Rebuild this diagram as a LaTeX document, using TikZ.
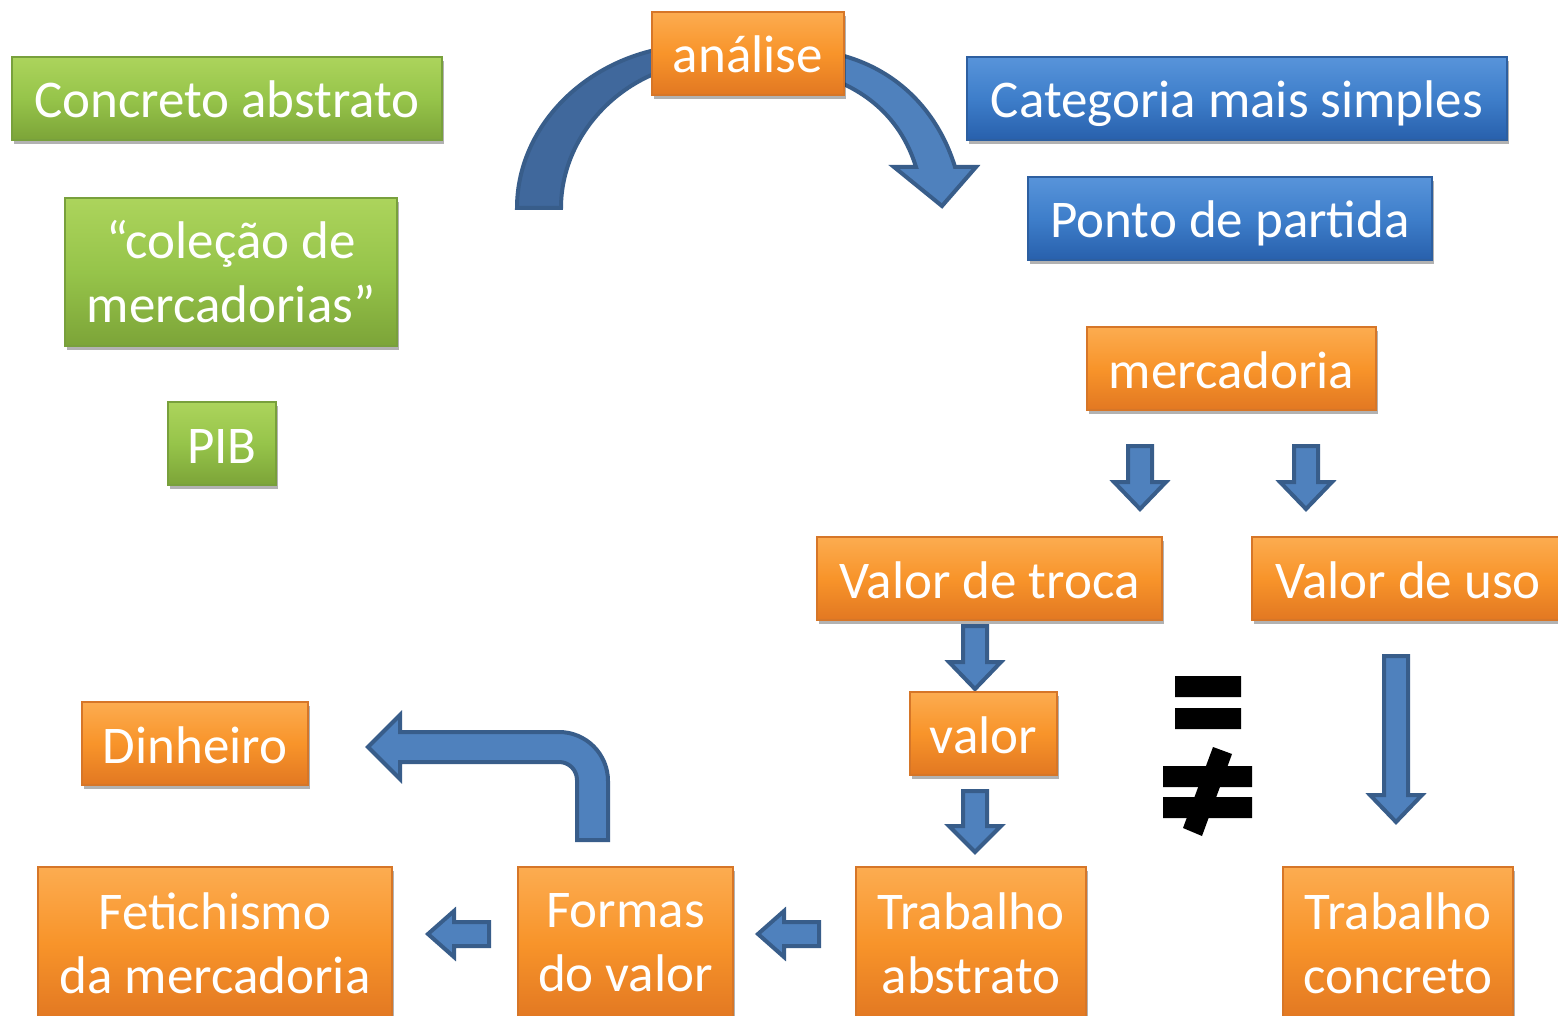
\documentclass[tikz,border=0pt]{standalone}
\usepackage{fontspec}
\setmainfont{Carlito}
\usetikzlibrary{shadows}
\definecolor{ortop}{RGB}{252,172,80}
\definecolor{ormid}{RGB}{248,148,42}
\definecolor{orbot}{RGB}{226,120,34}
\definecolor{orbd}{RGB}{214,118,40}
\definecolor{grtop}{RGB}{172,212,92}
\definecolor{grmid}{RGB}{150,196,74}
\definecolor{grbot}{RGB}{124,164,56}
\definecolor{grbd}{RGB}{120,160,60}
\definecolor{bltop}{RGB}{88,148,218}
\definecolor{blmid}{RGB}{62,126,202}
\definecolor{blbot}{RGB}{40,96,172}
\definecolor{blbd}{RGB}{45,95,160}
\definecolor{arrfill}{RGB}{79,129,189}
\definecolor{arrdark}{RGB}{64,104,156}
\definecolor{arrline}{RGB}{56,93,138}
\tikzset{
  box/.style={rectangle, inner sep=0pt, text=white, align=center,
    font=\fontsize{26.5}{32}\selectfont, draw=#1bd, line width=0.6pt,
    top color=#1top, bottom color=#1bot, middle color=#1mid,
    drop shadow={shadow xshift=1.2pt, shadow yshift=-1.8pt, opacity=0.3, fill=black}},
  oneline/.style={minimum height=41.5pt, text height=20pt, text depth=0.5pt},
  blk/.style={fill=arrfill, draw=arrline, line width=2pt, line join=miter},
  neq/.style={fill=black}
}
\newcommand{\downblk}[4]{\draw[blk] ({#1-12},#2) -- ({#1+12},#2) -- ({#1+12},#3) -- ({#1+26},#3) -- (#1,#4) -- ({#1-26},#3) -- ({#1-12},#3) -- cycle;}
\newcommand{\leftblk}[4]{\draw[blk] (#2,{#1-12}) -- (#2,{#1+12}) -- (#3,{#1+12}) -- (#3,{#1+23}) -- (#4,#1) -- (#3,{#1-23}) -- (#3,{#1-12}) -- cycle;}
\begin{document}
\begin{tikzpicture}[x=0.5pt, y=-0.5pt]
\useasboundingbox (0,0) rectangle (1558,1016);
\fill[white] (0,0) rectangle (1558,1016);
% curved arrow round the analysis box
\draw[blk, fill=arrdark] (517,208) .. controls (517,120) and (598,45) .. (700,45) -- (713,62) .. controls (630,62) and (561,130) .. (561,208) -- cycle;
\draw[blk] (800,49) .. controls (885,53) and (936,105) .. (955,167) -- (976,167) -- (942,206) -- (894,167) -- (916,167) .. controls (900,115) and (860,82) .. (800,70) -- cycle;
\downblk{1140}{446}{482}{509}
\downblk{1306}{446}{482}{509}
\downblk{975}{626}{662}{689}
\downblk{975}{791}{826}{852}
\downblk{1396}{656}{795}{822}
\leftblk{934}{819}{784}{758}
\leftblk{934}{489}{454}{428}
\draw[blk] (577,840) -- (577,780) .. controls (577,770) and (569,762) .. (559,762) -- (400,762) -- (400,779) -- (368,747) -- (400,715) -- (400,732) -- (559,732) .. controls (586,732) and (608,754) .. (608,781) -- (608,840) -- cycle;
% equal and not equal
\fill[neq] (1175,676) rectangle (1241,697) (1175,708) rectangle (1241,729);
\fill[neq] (1163,766) rectangle (1252,787) (1163,797) rectangle (1252,818);
\fill[neq] (1213,747) -- (1232,754) -- (1202,836) -- (1183,828) -- cycle;
\node[box=gr, oneline, minimum width=215pt] (concreto) at (227,98.5) {Concreto abstrato};
\node[box=gr, minimum width=166pt, minimum height=74pt] (colecao) at (231,272) {“coleção de\\mercadorias”};
\node[box=gr, oneline, minimum width=54pt] (pib) at (222,443.5) {PIB};
\node[box=or, oneline, minimum width=96pt] (analise) at (748,53.5) {análise};
\node[box=bl, oneline, minimum width=270pt] (categoria) at (1237,98.5) {Categoria mais simples};
\node[box=bl, oneline, minimum width=202pt] (ponto) at (1230,218.5) {Ponto de partida};
\node[box=or, oneline, minimum width=144.5pt] (mercadoria) at (1231.5,368.5) {mercadoria};
\node[box=or, oneline, minimum width=172.5pt] (troca) at (989.5,578.5) {Valor de troca};
\node[box=or, oneline, minimum width=156pt] (uso) at (1408,578.5) {Valor de uso};
\node[box=or, oneline, minimum width=73.5pt] (valor) at (983.5,733.5) {valor};
\node[box=or, oneline, minimum width=113pt] (dinheiro) at (195,743.5) {Dinheiro};
\node[box=or, minimum width=177pt, minimum height=76pt] (fetiche) at (215,943) {Fetichismo\\da mercadoria};
\node[box=or, minimum width=107.5pt, minimum height=76pt] (formas) at (625.5,943) {Formas\\do valor};
\node[box=or, minimum width=115pt, minimum height=76pt] (tabstrato) at (971,943) {Trabalho\\abstrato};
\node[box=or, minimum width=115pt, minimum height=76pt] (tconcreto) at (1398,943) {Trabalho\\concreto};
\end{tikzpicture}
\end{document}
